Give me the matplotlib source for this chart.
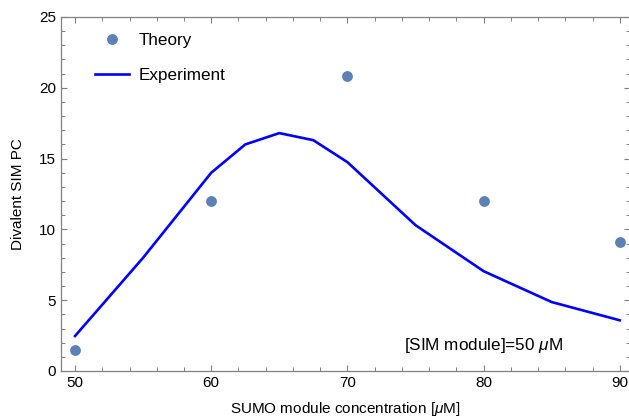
import matplotlib
matplotlib.use("Agg")
import matplotlib.pyplot as plt
from matplotlib.ticker import MultipleLocator
from matplotlib.lines import Line2D

plt.rcParams['font.family'] = ['Liberation Sans', 'DejaVu Sans']
plt.rcParams['mathtext.fontset'] = 'custom'
plt.rcParams['mathtext.rm'] = 'Liberation Sans'
plt.rcParams['mathtext.it'] = 'Liberation Sans:italic'

# Theory points
theory_x = [50, 60, 70, 80, 90]
theory_y = [1.5, 12.0, 20.8, 12.0, 9.1]

# Experiment curve
exp_x = [50, 55, 60, 62.5, 65, 67.5, 70, 75, 80, 85, 90]
exp_y = [2.47, 8.0, 14.0, 16.0, 16.8, 16.3, 14.75, 10.3, 7.05, 4.87, 3.58]

theory_color = '#5E81B5'
exp_color = '#0000FF'
frame_color = '#808080'

fig = plt.figure(figsize=(6.29, 4.17), dpi=100)
ax = fig.add_axes([61 / 629, 46 / 417, 569 / 629, 354 / 417])

ax.plot(exp_x, exp_y, color=exp_color, linewidth=1.9, zorder=2)
ax.plot(theory_x, theory_y, 'o', color=theory_color, markersize=7.8,
        markeredgewidth=0, zorder=3)

ax.set_xlim(48.97, 90.75)
ax.set_ylim(0, 25)

ax.xaxis.set_major_locator(MultipleLocator(10))
ax.xaxis.set_minor_locator(MultipleLocator(2))
ax.yaxis.set_major_locator(MultipleLocator(5))
ax.yaxis.set_minor_locator(MultipleLocator(1))

ax.tick_params(which='both', direction='in', top=True, right=True,
               color=frame_color, labelsize=11)
ax.tick_params(which='major', length=4.5, width=0.8)
ax.tick_params(which='minor', length=2.8, width=0.7)
for s in ax.spines.values():
    s.set_color(frame_color)
    s.set_linewidth(0.9)

ax.set_xlabel(r'SUMO module concentration [$\mu$M]', fontsize=11, labelpad=7)
ax.set_ylabel('Divalent SIM PC', fontsize=11, labelpad=10)

ax.text(0.742, 0.073, r'[SIM module]=50 $\mu$M', transform=ax.transAxes,
        ha='center', va='center', fontsize=12.3)

handles = [
    Line2D([], [], marker='o', linestyle='none', color=theory_color,
           markersize=7.8, markeredgewidth=0, label='Theory'),
    Line2D([], [], color=exp_color, linewidth=1.9, label='Experiment'),
]
ax.legend(handles=handles, loc='upper left', bbox_to_anchor=(0.06, 0.955),
          frameon=False, fontsize=12.3, borderpad=0, handlelength=2.0,
          handletextpad=0.55, labelspacing=1.15, borderaxespad=0)

fig.savefig('out.png', dpi=100)
